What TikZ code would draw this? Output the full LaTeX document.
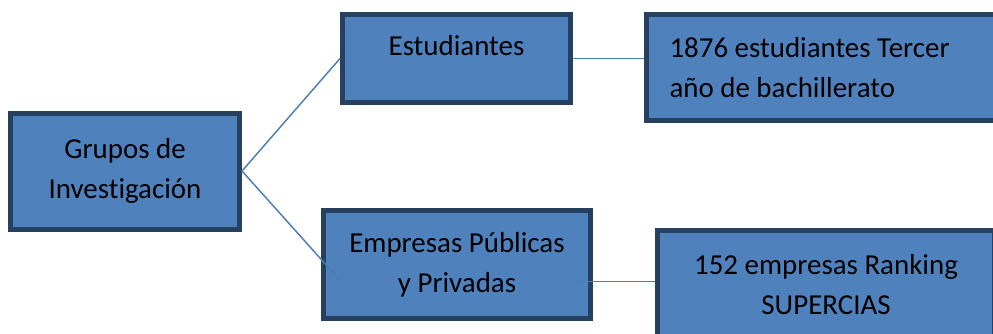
\documentclass[tikz,border=0pt]{standalone}
\usepackage{fontspec}
\setmainfont{Carlito}[Ligatures=NoCommon]
\definecolor{cajafondo}{HTML}{4F81BD}
\definecolor{cajaborde}{HTML}{26405F}
\definecolor{linea}{HTML}{4A7EBB}
\begin{document}
\begin{tikzpicture}[x=0.75pt, y=-0.75pt,
	caja/.style={draw=cajaborde, fill=cajafondo, line width=3.75pt, inner sep=0pt, align=center, font=\fontsize{21.7}{30}\selectfont},
	enlace/.style={draw=linea, line width=1.1pt}]
	\clip (0,0) rectangle (993,333);

	\node[caja, minimum width=229*0.75pt, minimum height=116*0.75pt] (grupos) at (125,171) {Grupos de\\Investigación};
	\node[caja, minimum width=228*0.75pt, minimum height=88*0.75pt, text depth=20pt] (estudiantes) at (456.5,58.5) {Estudiantes};
	\node[caja, minimum width=267*0.75pt, minimum height=108*0.75pt] (empresas) at (457,264.5) {Empresas Públicas\\y Privadas};
	\node[caja, minimum width=353*0.75pt, minimum height=106*0.75pt, text width=307*0.75pt, align=flush left] (poblacion) at (823,67.5) {1876 estudiantes Tercer\\año de bachillerato};
	\node[caja, minimum width=337*0.75pt, minimum height=109*0.75pt] (muestra) at (826,285) {152 empresas Ranking\\SUPERCIAS};

	\coordinate (llegada) at ([shift={(20,17)}]empresas.west);
	\coordinate (salida) at ([shift={(-20,17)}]empresas.east);
	\draw[enlace] (grupos.east) -- (estudiantes.west);
	\draw[enlace] (grupos.east) -- (llegada);
	\draw[enlace] (estudiantes.east) -- (estudiantes.east -| poblacion.west);
	\draw[enlace] (salida) -- (salida -| muestra.west);
\end{tikzpicture}
\end{document}
